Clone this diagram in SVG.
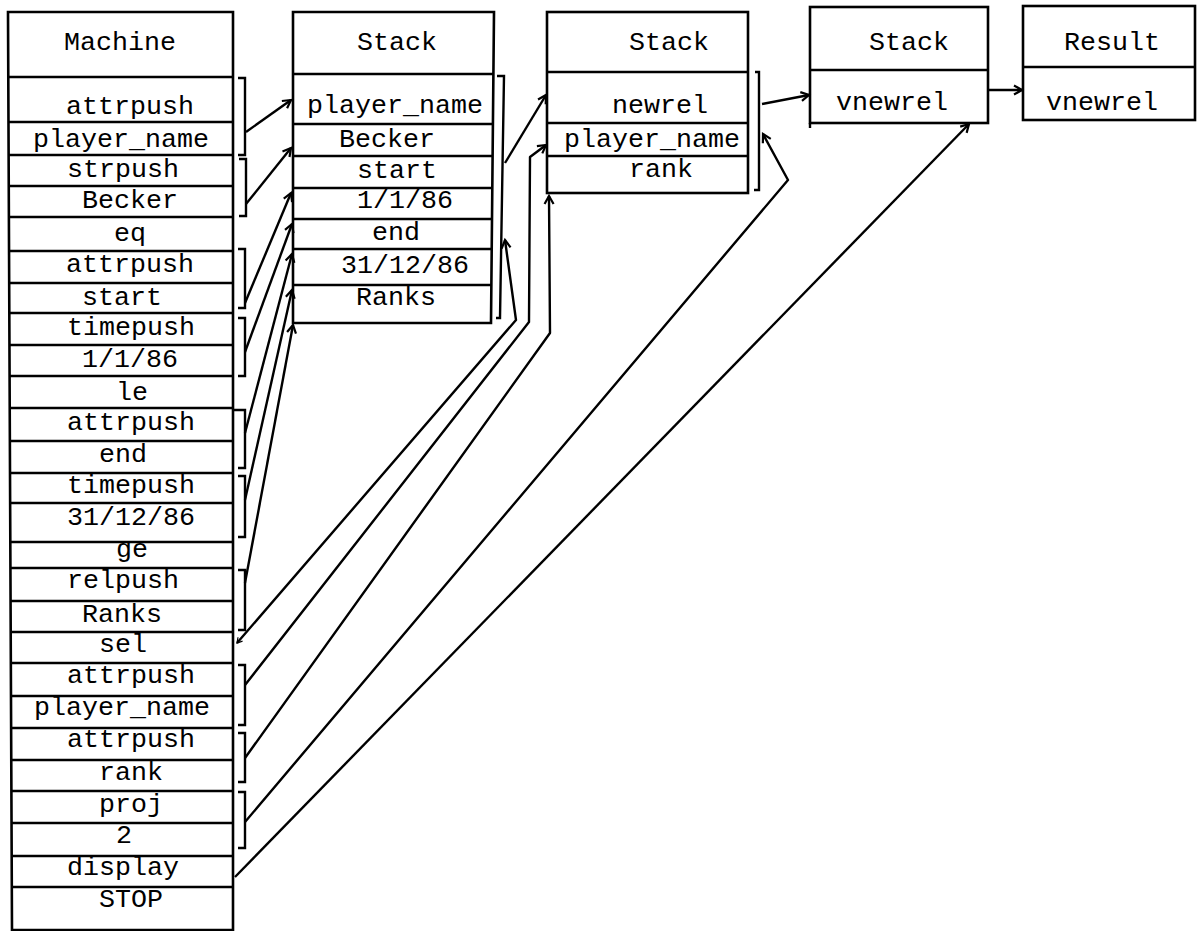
<svg xmlns="http://www.w3.org/2000/svg" width="1202" height="931" viewBox="0 0 1202 931">
  <style>
    .box { fill: #fff; stroke: #000; stroke-width: 2.6; stroke-linejoin: miter; }
    .sep { fill: none; stroke: #000; stroke-width: 2.4; }
    .lbl { font-family: "Liberation Mono", "DejaVu Sans Mono", monospace; font-size: 26.67px; fill: #000; }
    .brk { fill: none; stroke: #000; stroke-width: 2.4; stroke-linejoin: miter; }
    .wire { fill: none; stroke: #000; stroke-width: 2.4; stroke-linejoin: round; marker-end: url(#tip); }
  </style>
  <defs>
    <marker id="tip" markerUnits="userSpaceOnUse" markerWidth="14" markerHeight="14" refX="10" refY="6" orient="auto">
      <path d="M2,1.5 L10,6 L2,10.5" fill="none" stroke="#000" stroke-width="2.2" stroke-linejoin="miter"/>
    </marker>
    <marker id="tick" markerUnits="userSpaceOnUse" markerWidth="10" markerHeight="10" refX="6" refY="4" orient="auto-start-reverse">
      <path d="M1,1 L6,4 L1,7" fill="none" stroke="#000" stroke-width="1.2"/>
    </marker>
  </defs>

  <!-- instruction sequence of the machine -->
  <g id="machine">
    <path class="box" d="M8,12 H233 V930 H12 Z"/>
    <path class="sep" d="M8.3,77H233 M8.5,122H233 M8.6,155H233 M8.8,186H233 M8.9,217H233 M9,251H233 M9.2,283H233 M9.3,313H233 M9.5,345H233 M9.6,376H233 M9.7,408H233 M9.9,441H233 M10,473H233 M10.1,503H233 M10.3,542H233 M10.4,568H233 M10.6,601H233 M10.7,632H233 M10.8,663H233 M11,696H233 M11.1,728H233 M11.3,760H233 M11.4,791H233 M11.5,823H233 M11.7,856H233 M11.8,887H233"/>
    <text class="lbl" x="64" y="50">Machine</text>
    <text class="lbl" x="66" y="114">attrpush</text>
    <text class="lbl" x="33" y="147">player_name</text>
    <text class="lbl" x="67" y="177">strpush</text>
    <text class="lbl" x="82" y="208">Becker</text>
    <text class="lbl" x="114" y="241">eq</text>
    <text class="lbl" x="66" y="272">attrpush</text>
    <text class="lbl" x="82" y="305">start</text>
    <text class="lbl" x="67" y="335">timepush</text>
    <text class="lbl" x="82" y="367">1/1/86</text>
    <text class="lbl" x="116" y="400">le</text>
    <text class="lbl" x="67" y="430">attrpush</text>
    <text class="lbl" x="99" y="462">end</text>
    <text class="lbl" x="67" y="493">timepush</text>
    <text class="lbl" x="67" y="525">31/12/86</text>
    <text class="lbl" x="116" y="557">ge</text>
    <text class="lbl" x="67" y="588">relpush</text>
    <text class="lbl" x="82" y="622">Ranks</text>
    <text class="lbl" x="99" y="652">sel</text>
    <text class="lbl" x="67" y="683">attrpush</text>
    <text class="lbl" x="34" y="715">player_name</text>
    <text class="lbl" x="67" y="747">attrpush</text>
    <text class="lbl" x="99" y="780">rank</text>
    <text class="lbl" x="99" y="812">proj</text>
    <text class="lbl" x="116" y="843">2</text>
    <text class="lbl" x="67" y="875">display</text>
    <text class="lbl" x="99" y="907">STOP</text>
  </g>

  <!-- first stack state -->
  <g id="stack1">
    <path class="box" d="M293,12 H494 L491,323 H293 Z"/>
    <path class="sep" d="M293,74H494 M293,124H493 M293,156H493 M293,188H493 M293,219H492 M293,249H492 M293,285H492"/>
    <text class="lbl" x="357" y="50">Stack</text>
    <text class="lbl" x="307" y="113">player_name</text>
    <text class="lbl" x="339" y="147">Becker</text>
    <text class="lbl" x="357" y="178">start</text>
    <text class="lbl" x="357" y="208">1/1/86</text>
    <text class="lbl" x="372" y="240">end</text>
    <text class="lbl" x="341" y="273">31/12/86</text>
    <text class="lbl" x="356" y="305">Ranks</text>
  </g>

  <!-- second stack state -->
  <g id="stack2">
    <rect class="box" x="547" y="12" width="201" height="181"/>
    <path class="sep" d="M547,72H748 M547,123H748 M547,156H748"/>
    <text class="lbl" x="629" y="50">Stack</text>
    <text class="lbl" x="612" y="113">newrel</text>
    <text class="lbl" x="564" y="147">player_name</text>
    <text class="lbl" x="629" y="177">rank</text>
  </g>

  <!-- third stack state -->
  <g id="stack3">
    <rect class="box" x="810" y="7" width="178" height="116"/>
    <path class="sep" d="M810,70H988 M810,123V128"/>
    <text class="lbl" x="869" y="50">Stack</text>
    <text class="lbl" x="836" y="110">vnewrel</text>
  </g>

  <!-- final result -->
  <g id="result">
    <rect class="box" x="1023" y="6" width="172" height="114"/>
    <path class="sep" d="M1023,67H1195"/>
    <text class="lbl" x="1064" y="50">Result</text>
    <text class="lbl" x="1046" y="110">vnewrel</text>
  </g>

  <!-- brackets grouping instruction pairs and stack entries -->
  <g id="brackets" class="brk">
    <path d="M238,78 H245 V155 H238"/>
    <path d="M239,159 H246 V216 H239"/>
    <path d="M238,249 H245 V308 H238"/>
    <path d="M238,318 H245 V376 H238"/>
    <path d="M233,410 H245 V468 H238"/>
    <path d="M238,476 H245 V537 H238"/>
    <path d="M238,570 H245 V630 H238"/>
    <path d="M238,665 H245 V725 H238"/>
    <path d="M238,733 H245 V782 H238"/>
    <path d="M238,792 H245 V848 H238"/>
    <path d="M497,76 H504 L500,318 H496"/>
    <path d="M755,72 H759 V190 H754"/>
  </g>

  <!-- data flow connectors -->
  <g id="connectors">
    <path class="wire" d="M246,132 L291,100"/>
    <path class="wire" d="M246,204 L291,148"/>
    <path class="wire" d="M245,303 L291,193"/>
    <path class="wire" d="M245,352 L292,224"/>
    <path class="wire" d="M245,433 L292,254"/>
    <path class="wire" d="M245,500 L292,290"/>
    <path class="wire" d="M245,583 L293,325"/>
    <path class="wire" d="M505,163 L546,95"/>
    <path class="wire" d="M237,643 L516,320 L505,240" marker-start="url(#tick)"/>
    <path class="wire" d="M245,685 L529,322 L530,157 L546,145"/>
    <path class="wire" d="M245,758 L550,333 L549,196"/>
    <path class="wire" d="M245,822 L788,180 L763,134"/>
    <path class="wire" d="M235,877 L969,124"/>
    <path class="wire" d="M762,104 L809,95"/>
    <path class="wire" d="M988,90 L1022,90"/>
  </g>
</svg>
